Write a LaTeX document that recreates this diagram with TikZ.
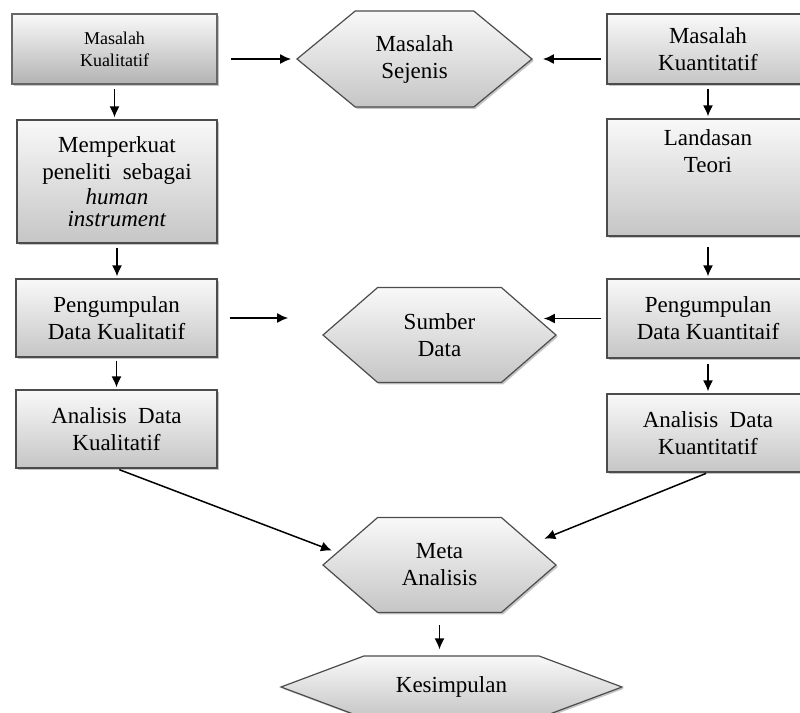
\documentclass[tikz,border=0pt]{standalone}
\usepackage{fontspec}
\setmainfont{Liberation Serif}
\usetikzlibrary{shapes.symbols,shadows,arrows.meta}

\begin{document}
\begin{tikzpicture}[x=0.5pt,y=-0.5pt]
                        \tikzstyle{kotak}=[draw=black!70, line width=0.6pt, top color=gray!5, bottom color=gray!45, drop shadow={shadow xshift=0.9pt,shadow yshift=-0.9pt,fill=black!45}, align=center, inner sep=2pt, font=\fontsize{11.5}{13.5}\selectfont]
                        \tikzstyle{segienam}=[kotak, shape=signal, signal to=east and west]
                        \tikzstyle{panah}=[-{Latex[length=5.5pt,width=5pt]}, line width=0.75pt]
                        \useasboundingbox (0,0) rectangle (800,713);
                        \node[kotak, minimum width=102.5pt, minimum height=35pt, line width=1.2pt, draw=black!60, bottom color=gray!60, font=\fontsize{9}{11}\selectfont] (mkual) at (114.5,49) {Masalah\\Kualitatif};
                        \node[kotak, minimum width=100pt, minimum height=61.5pt] (perkuat) at (117,181.5) {Memperkuat\\peneliti\ \ sebagai\\[-1pt]\textit{human}\\[-2.5pt]\textit{instrument}};
                        \node[kotak, minimum width=100.5pt, minimum height=39pt] (pkual) at (116.5,318) {Pengumpulan\\Data Kualitatif};
                        \node[kotak, minimum width=100.5pt, minimum height=39pt] (akual) at (116.5,429) {Analisis\ \ Data\\Kualitatif};
                        \node[kotak, minimum width=101pt, minimum height=35pt] (mkuan) at (708,49) {Masalah\\Kuantitatif};
                        \node[kotak, minimum width=101pt, minimum height=58.5pt] (teori) at (708,177.5) {Landasan\\Teori\\[13pt]~};
                        \node[kotak, minimum width=101pt, minimum height=39.5pt] (pkuan) at (708,318.5) {Pengumpulan\\Data Kuantitaif};
                        \node[kotak, minimum width=101pt, minimum height=39pt] (akuan) at (708,433) {Analisis\ \ Data\\Kuantitatif};
                        \node[segienam, minimum width=117.5pt, minimum height=48pt, signal pointer angle=79] (sejenis) at (414.5,59) {Masalah\\Sejenis};
                        \node[segienam, minimum width=116.5pt, minimum height=47.5pt, signal pointer angle=82] (sumber) at (439.5,335) {Sumber\\Data};
                        \node[segienam, minimum width=116.5pt, minimum height=47.5pt, signal pointer angle=82] (meta) at (439.5,565) {Meta\\Analisis};
                        \node[segienam, minimum width=170.5pt, minimum height=31pt, signal pointer angle=41] (simpul) at (451.5,687) {Kesimpulan};
                        \draw[panah, shorten <=6.5pt, shorten >=2.5pt] (mkual.east |- sejenis.west) -- (sejenis.west);
                        \draw[panah, shorten <=2.5pt, shorten >=5pt] (mkuan.west |- sejenis.east) -- (sejenis.east);
                        \draw[panah, shorten <=2pt, shorten >=1pt] (mkual.south) -- (mkual.south |- perkuat.north);
                        \draw[panah, shorten <=2pt, shorten >=1pt] (mkuan.south) -- (mkuan.south |- teori.north);
                        \draw[panah, shorten <=2pt, shorten >=1pt] (perkuat.south) -- (perkuat.south |- pkual.north);
                        \draw[panah, shorten <=5pt, shorten >=1pt] (teori.south) -- (teori.south |- pkuan.north);
                        \draw[panah, shorten <=6pt, shorten >=17pt] (pkual.east) -- (pkual.east -| sumber.west);
                        \draw[panah, shorten <=2.5pt, shorten >=-6.5pt] (pkuan.west) -- (pkuan.west -| sumber.east);
                        \draw[panah, shorten <=1.5pt, shorten >=1pt] (pkual.south) -- (pkual.south |- akual.north);
                        \draw[panah, shorten <=2.5pt, shorten >=1pt] (pkuan.south) -- (pkuan.south |- akuan.north);
                        \draw[panah, shorten <=1.5pt, shorten >=2.5pt] (akual.south) -- (meta.173);
                        \draw[panah, shorten <=1pt, shorten >=6.5pt] (akuan.south) -- (meta.13);
                        \draw[panah, shorten <=6pt, shorten >=3pt] (meta.south) -- (meta.south |- simpul.north);
                    \end{tikzpicture}
\end{document}
